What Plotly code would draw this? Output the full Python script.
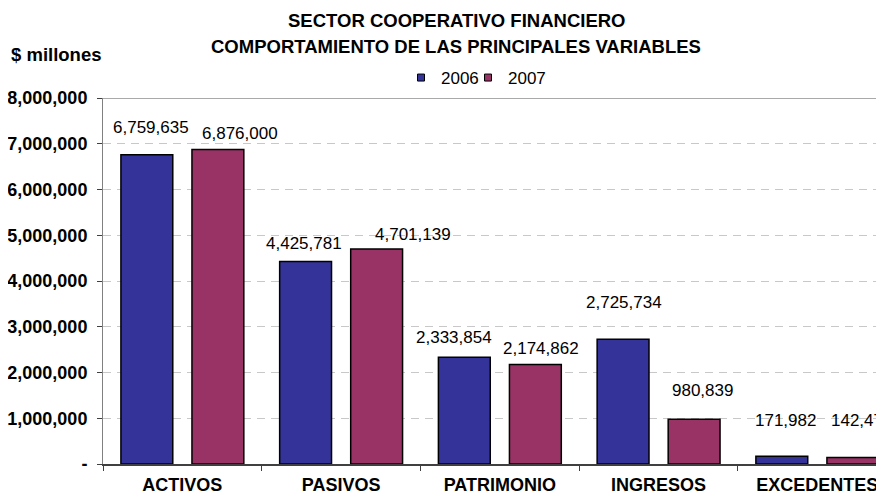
import plotly.graph_objects as go

categories = ["ACTIVOS", "PASIVOS", "PATRIMONIO", "INGRESOS", "EXCEDENTES"]
values_2006 = [6759635, 4425781, 2333854, 2725734, 171982]
values_2007 = [6876000, 4701139, 2174862, 980839, 142478]
series_names = ["2006", "2007"]
y_tickvals = [0, 1000000, 2000000, 3000000, 4000000, 5000000, 6000000, 7000000, 8000000]
y_ticktext = ["-", "1,000,000", "2,000,000", "3,000,000", "4,000,000",
              "5,000,000", "6,000,000", "7,000,000", "8,000,000"]

# label placement offsets (pixels) relative to category centre / bar top
label_dx_2006 = [-31, -37, -46, -35, -32]
label_dx_2007 = [58, 72, 41, 44, 44]
label_dy_2006 = [27, 18, 20, 37, 36]
label_dy_2007 = [16, 14, 16, 29, 37]

FONT = "Arial, Liberation Sans, sans-serif"
BLUE = "#333399"
MAROON = "#993366"

# plot area in page pixels: x 103..884, y 98..464 (page body has an 8px margin)
PX_L, PX_W, PX_B, PX_H = 103, 781, 464, 366


def px_x(p):
    return (p - PX_L) / PX_W


def px_y(p):
    return (PX_B - p) / PX_H


fig = go.Figure()
fig.add_trace(go.Bar(x=categories, y=values_2006, name=series_names[0], showlegend=False,
                     marker=dict(color=BLUE, line=dict(color="#000000", width=1.5))))
fig.add_trace(go.Bar(x=categories, y=values_2007, name=series_names[1], showlegend=False,
                     marker=dict(color=MAROON, line=dict(color="#000000", width=1.5))))
# legend entries with small square swatches (one legend box per series)
for nm, col, lg in zip(series_names, [BLUE, MAROON], ["legend", "legend2"]):
    fig.add_trace(go.Scatter(x=[None], y=[None], mode="markers", name=nm, legend=lg,
                             marker=dict(symbol="square", size=7, color=col,
                                         line=dict(color="#000000", width=1))))

annotations = []
for i, c in enumerate(categories):
    annotations.append(dict(x=c, y=values_2006[i], xref="x", yref="y",
                            text=f"{values_2006[i]:,}", showarrow=False,
                            xanchor="center", yanchor="middle",
                            xshift=label_dx_2006[i], yshift=label_dy_2006[i],
                            font=dict(family=FONT, size=17, color="#000000")))
    annotations.append(dict(x=c, y=values_2007[i], xref="x", yref="y",
                            text=f"{values_2007[i]:,}", showarrow=False,
                            xanchor="center", yanchor="middle",
                            xshift=label_dx_2007[i], yshift=label_dy_2007[i],
                            font=dict(family=FONT, size=17, color="#000000")))

annotations += [
    dict(text="<b>SECTOR COOPERATIVO FINANCIERO</b>", xref="paper", yref="paper",
         x=px_x(456), y=px_y(20), showarrow=False,
         xanchor="center", yanchor="middle",
         font=dict(family=FONT, size=18.5, color="#000000")),
    dict(text="<b>COMPORTAMIENTO DE LAS PRINCIPALES VARIABLES</b>", xref="paper", yref="paper",
         x=px_x(456), y=px_y(47), showarrow=False,
         xanchor="center", yanchor="middle",
         font=dict(family=FONT, size=18.5, color="#000000")),
    dict(text="<b>$ millones</b>", xref="paper", yref="paper",
         x=px_x(9), y=px_y(55), showarrow=False,
         xanchor="left", yanchor="middle",
         font=dict(family=FONT, size=18.5, color="#000000")),
]

legend_common = dict(orientation="h", xanchor="left", yanchor="middle",
                     font=dict(family=FONT, size=17, color="#000000"),
                     itemwidth=30, bgcolor="rgba(0,0,0,0)")

fig.update_layout(
    width=876, height=489,
    margin=dict(l=95, r=0, t=90, b=33),
    paper_bgcolor="#ffffff", plot_bgcolor="#ffffff",
    barmode="group", bargap=0.105, bargroupgap=0.27,
    showlegend=True,
    legend=dict(x=px_x(401), y=px_y(78), **legend_common),
    legend2=dict(x=px_x(468), y=px_y(78), **legend_common),
    annotations=annotations,
    font=dict(family=FONT, color="#000000"),
    shapes=[dict(type="line", xref="paper", yref="y", x0=0, x1=1,
                 y0=8000000, y1=8000000, line=dict(color="#8c8c8c", width=1.5))],
)

fig.update_xaxes(type="category", range=[-0.5, 4.42], tickson="boundaries",
                 ticks="outside", ticklen=5, tickcolor="#404040", tickwidth=1,
                 showline=True, linecolor="#404040", linewidth=2,
                 showgrid=False, ticklabelstandoff=3, automargin=False,
                 tickfont=dict(family=FONT, size=18, color="#000000", weight="bold"))
fig.update_yaxes(range=[0, 8000000], tickvals=y_tickvals, ticktext=y_ticktext,
                 ticks="outside", ticklen=5, tickcolor="#404040",
                 showline=True, linecolor="#808080", linewidth=1,
                 showgrid=True, gridcolor="#c8c8c8", gridwidth=1, griddash="8px,6px",
                 zeroline=False, ticklabelstandoff=6, automargin=False,
                 tickfont=dict(family=FONT, size=18, color="#000000", weight="bold"))

fig.write_html("out.html")
